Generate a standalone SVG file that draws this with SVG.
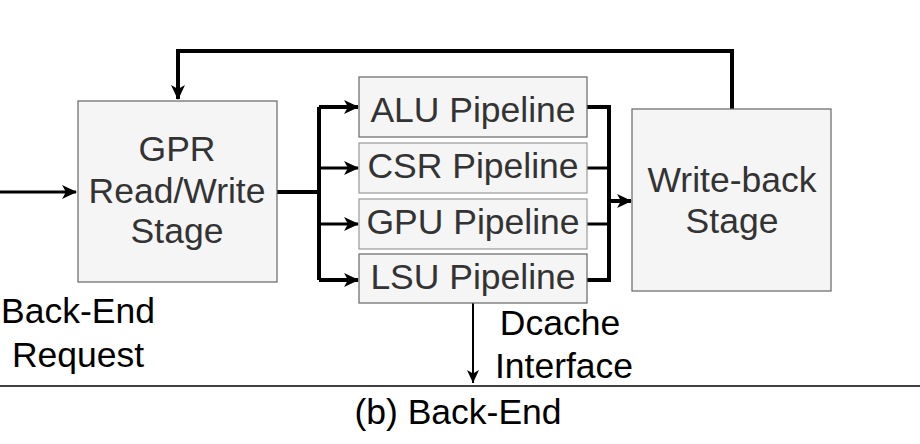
<svg xmlns="http://www.w3.org/2000/svg" width="920" height="444" viewBox="0 0 920 444">
<style>
.box{fill:#f5f5f5;stroke:#666;stroke-width:1.2}
.box2{fill:#f5f5f5;stroke:#999;stroke-width:1.2}
.nt{font-family:"Liberation Sans",Arial,sans-serif;font-size:35.5px;fill:#333;text-anchor:middle}
.lt{font-family:"Liberation Sans",Arial,sans-serif;font-size:35.5px;fill:#000;text-anchor:middle}
.w4{fill:none;stroke:#000;stroke-width:4}
.w3{fill:none;stroke:#000;stroke-width:3}
</style>
<defs>
<marker id="ah" markerUnits="userSpaceOnUse" markerWidth="16" markerHeight="16" refX="14" refY="7" orient="auto" viewBox="0 0 16 14">
<path d="M0,0 L15,7 L0,14 L4,7 z" fill="#000"/>
</marker>
<marker id="ahs" markerUnits="userSpaceOnUse" markerWidth="14" markerHeight="14" refX="13" refY="6" orient="auto" viewBox="0 0 14 12">
<path d="M0,0 L13,6 L0,12 L3.5,6 z" fill="#000"/>
</marker>
</defs>
<g id="connectors">
<path class="w3" d="M0,192 H76" marker-end="url(#ah)"/>
<path class="w4" d="M732,109 V51 H178 V99" marker-end="url(#ah)"/>
<path class="w4" d="M277,192 H319"/>
<path class="w4" d="M319,107 V280"/>
<path class="w4" d="M319,107 H358" marker-end="url(#ah)"/>
<path class="w3" d="M319,168 H358" marker-end="url(#ah)"/>
<path class="w3" d="M319,224 H358" marker-end="url(#ah)"/>
<path class="w4" d="M319,280 H358" marker-end="url(#ah)"/>
<path class="w4" d="M587,107 H609 V280 H587"/>
<path class="w3" d="M587,168 H609"/>
<path class="w3" d="M587,224 H609"/>
<path class="w4" d="M609,201 H631" marker-end="url(#ah)"/>
<path fill="none" stroke="#000" stroke-width="2" d="M473,303 V383" marker-end="url(#ahs)"/>
</g>
<g id="gpr">
<rect class="box" x="78" y="101" width="199" height="181"/>
<text class="nt" x="177" y="161">GPR</text>
<text class="nt" x="177" y="203">Read/Write</text>
<text class="nt" x="177" y="243">Stage</text>
</g>
<g id="alu">
<rect class="box" x="359" y="77" width="228" height="60"/>
<text class="nt" x="473" y="122">ALU Pipeline</text>
</g>
<g id="csr">
<rect class="box2" x="359" y="143" width="228" height="50"/>
<text class="nt" x="473" y="178">CSR Pipeline</text>
</g>
<g id="gpu">
<rect class="box2" x="359" y="199" width="228" height="50"/>
<text class="nt" x="473" y="234">GPU Pipeline</text>
</g>
<g id="lsu">
<rect class="box" x="359" y="254" width="228" height="49"/>
<text class="nt" x="473" y="289">LSU Pipeline</text>
</g>
<g id="writeback">
<rect class="box" x="632" y="109" width="199" height="182"/>
<text class="nt" x="732" y="192">Write-back</text>
<text class="nt" x="732" y="233">Stage</text>
</g>
<g id="labels">
<text class="lt" x="78" y="323">Back-End</text>
<text class="lt" x="78" y="367">Request</text>
<text class="lt" x="560" y="335">Dcache</text>
<text class="lt" x="564" y="378">Interface</text>
<line x1="0" y1="386" x2="920" y2="386" stroke="#000" stroke-width="1.5"/>
<text class="lt" x="458" y="424">(b) Back-End</text>
</g>
</svg>
